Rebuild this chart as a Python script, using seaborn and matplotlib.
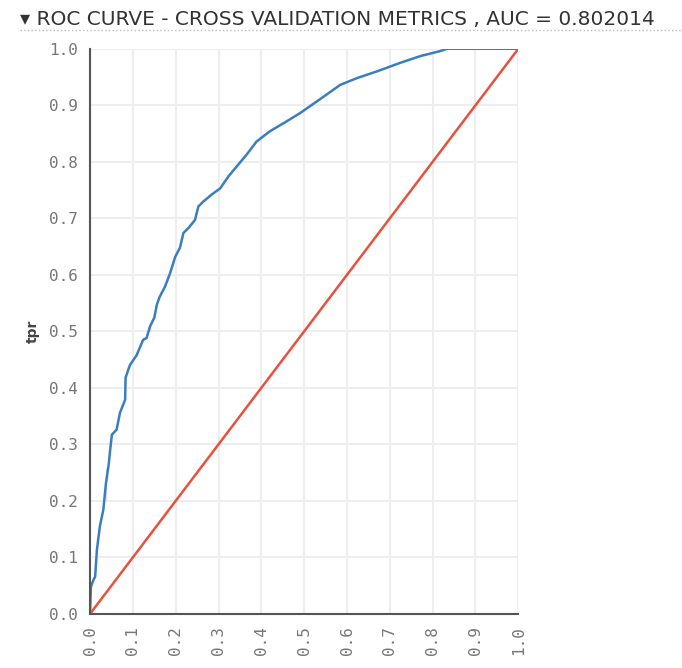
import pandas as pd
import matplotlib.pyplot as plt
import seaborn as sns

# ROC points
fpr = [0.0, 0.002, 0.008, 0.012, 0.016, 0.023, 0.031, 0.037, 0.037, 0.044, 0.047,
       0.051, 0.062, 0.070, 0.082, 0.083, 0.093, 0.109, 0.124, 0.132, 0.140, 0.140,
       0.150, 0.156, 0.162, 0.175, 0.187, 0.199, 0.210, 0.218, 0.230, 0.245, 0.253,
       0.265, 0.284, 0.304, 0.323, 0.346, 0.366, 0.389, 0.420, 0.460, 0.490, 0.530,
       0.584, 0.623, 0.670, 0.724, 0.771, 0.818, 0.833, 1.0]
tpr = [0.0, 0.048, 0.060, 0.066, 0.113, 0.155, 0.184, 0.202, 0.258, 0.267, 0.290,
       0.317, 0.326, 0.356, 0.379, 0.418, 0.440, 0.458, 0.485, 0.488, 0.500, 0.517,
       0.524, 0.547, 0.560, 0.579, 0.603, 0.632, 0.648, 0.674, 0.683, 0.697, 0.721,
       0.730, 0.742, 0.753, 0.774, 0.795, 0.813, 0.836, 0.854, 0.872, 0.886, 0.907,
       0.936, 0.948, 0.960, 0.975, 0.987, 0.996, 1.0, 1.0]
diag = [0.0, 1.0]
ticks = [round(i / 10, 1) for i in range(11)]
auc = 0.802014

roc_df = pd.DataFrame({"fpr": fpr, "tpr": tpr})
diag_df = pd.DataFrame({"fpr": diag, "tpr": diag})

sns.set_style("white")
fig = plt.figure(figsize=(6.82, 6.68), dpi=100)
ax = fig.add_axes([0.132, 0.081, 0.628, 0.846])

sns.lineplot(x="fpr", y="tpr", data=roc_df, sort=False, color="#3a7dc0", linewidth=1.8, ax=ax)
sns.lineplot(x="fpr", y="tpr", data=diag_df, sort=False, color="#e8513d", linewidth=1.8, ax=ax)

ax.set_xlim(0, 1)
ax.set_ylim(0, 1)
ax.set_xticks(ticks)
ax.set_yticks(ticks)
ax.set_xticklabels([f"{t:.1f}" for t in ticks], rotation=90, family="DejaVu Sans Mono",
                   fontsize=11.5, color="#777777")
ax.set_yticklabels([f"{t:.1f}" for t in ticks], family="DejaVu Sans Mono",
                   fontsize=11.5, color="#777777")
ax.grid(True, color="#eeeeee", linewidth=1.5)
ax.set_axisbelow(True)
for side in ["top", "right"]:
    ax.spines[side].set_visible(False)
for side in ["left", "bottom"]:
    ax.spines[side].set_color("#555555")
    ax.spines[side].set_linewidth(1.5)
ax.tick_params(axis="both", length=6, width=1.5, color="#555555", pad=3)

ax.set_xlabel("")
ax.set_ylabel("tpr", fontsize=10, fontweight="bold", color="#444444", labelpad=6)

fig.text(0.03, 0.962, f"▾ ROC CURVE - CROSS VALIDATION METRICS , AUC = {auc}",
         fontsize=14.5, color="#333333", ha="left", va="baseline")
fig.add_artist(plt.Line2D([0.03, 1.0], [0.955, 0.955], color="#bbbbbb",
                          linewidth=1, linestyle=":", transform=fig.transFigure))

plt.savefig("out.png", dpi=100)
